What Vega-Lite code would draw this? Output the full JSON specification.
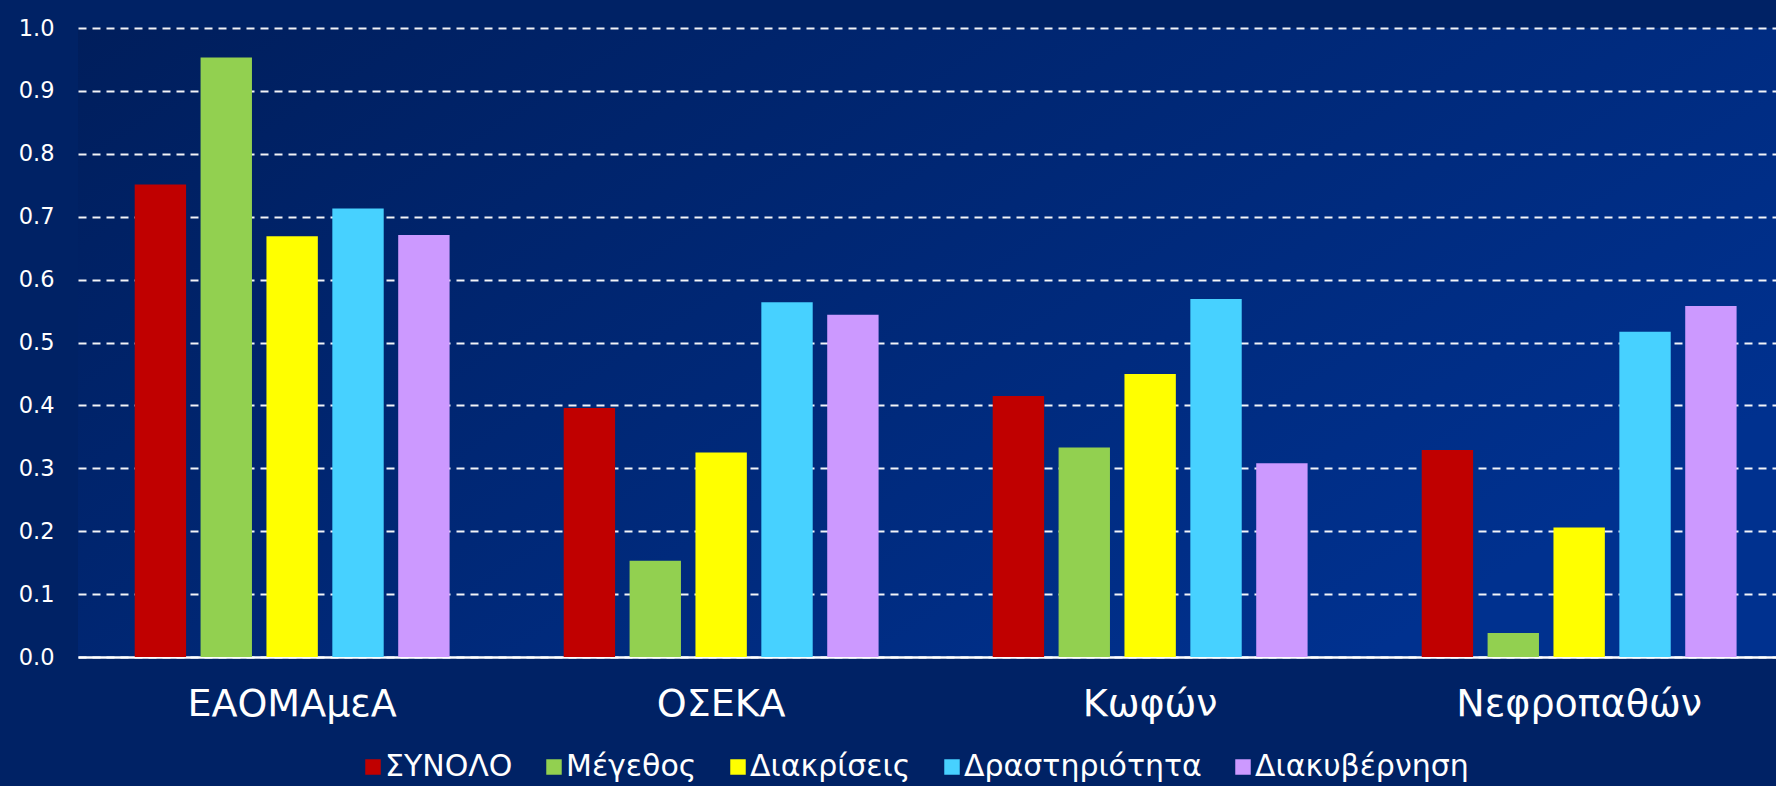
{
  "$schema": "https://vega.github.io/schema/vega-lite/v6.json",
  "width": 1698,
  "height": 629,
  "autosize": {"type": "none"},
  "padding": {"left": 78, "top": 28, "right": 0, "bottom": 129},
  "background": "#002265",
  "config": {
    "font": "DejaVu Sans",
    "view": {
      "stroke": null,
      "fill": {
        "gradient": "linear",
        "x1": 0, "y1": 0, "x2": 1, "y2": 0.6,
        "stops": [
          {"offset": 0, "color": "#001e5c"},
          {"offset": 1, "color": "#00318f"}
        ]
      }
    }
  },
  "data": {
    "values": [
      {"org": "ΕΑΟΜΑμεΑ", "k": "ΣΥΝΟΛΟ", "v": 0.751},
      {"org": "ΕΑΟΜΑμεΑ", "k": "Μέγεθος", "v": 0.953},
      {"org": "ΕΑΟΜΑμεΑ", "k": "Διακρίσεις", "v": 0.669},
      {"org": "ΕΑΟΜΑμεΑ", "k": "Δραστηριότητα", "v": 0.713},
      {"org": "ΕΑΟΜΑμεΑ", "k": "Διακυβέρνηση", "v": 0.671},
      {"org": "ΟΣΕΚΑ", "k": "ΣΥΝΟΛΟ", "v": 0.396},
      {"org": "ΟΣΕΚΑ", "k": "Μέγεθος", "v": 0.153},
      {"org": "ΟΣΕΚΑ", "k": "Διακρίσεις", "v": 0.325},
      {"org": "ΟΣΕΚΑ", "k": "Δραστηριότητα", "v": 0.564},
      {"org": "ΟΣΕΚΑ", "k": "Διακυβέρνηση", "v": 0.544},
      {"org": "Κωφών", "k": "ΣΥΝΟΛΟ", "v": 0.415},
      {"org": "Κωφών", "k": "Μέγεθος", "v": 0.333},
      {"org": "Κωφών", "k": "Διακρίσεις", "v": 0.45},
      {"org": "Κωφών", "k": "Δραστηριότητα", "v": 0.569},
      {"org": "Κωφών", "k": "Διακυβέρνηση", "v": 0.308},
      {"org": "Νεφροπαθών", "k": "ΣΥΝΟΛΟ", "v": 0.329},
      {"org": "Νεφροπαθών", "k": "Μέγεθος", "v": 0.038},
      {"org": "Νεφροπαθών", "k": "Διακρίσεις", "v": 0.206},
      {"org": "Νεφροπαθών", "k": "Δραστηριότητα", "v": 0.517},
      {"org": "Νεφροπαθών", "k": "Διακυβέρνηση", "v": 0.558}
    ]
  },
  "mark": {"type": "bar"},
  "encoding": {
    "x": {
      "field": "org",
      "type": "nominal",
      "sort": ["ΕΑΟΜΑμεΑ", "ΟΣΕΚΑ", "Κωφών", "Νεφροπαθών"],
      "scale": {"paddingInner": 0.266, "paddingOuter": 0.112, "align": 0.59},
      "axis": {
        "title": null,
        "labelAngle": 0,
        "labelFontSize": 38,
        "labelColor": "#ffffff",
        "labelPadding": 28,
        "labelLimit": 0,
        "ticks": false,
        "domainColor": "#ffffff",
        "domainWidth": 2.5,
        "grid": false
      }
    },
    "xOffset": {
      "field": "k",
      "type": "nominal",
      "sort": ["ΣΥΝΟΛΟ", "Μέγεθος", "Διακρίσεις", "Δραστηριότητα", "Διακυβέρνηση"],
      "scale": {"paddingInner": 0.22, "paddingOuter": 0}
    },
    "y": {
      "field": "v",
      "type": "quantitative",
      "scale": {"domain": [0, 1], "nice": false},
      "axis": {
        "title": null,
        "values": [0, 0.1, 0.2, 0.3, 0.4, 0.5, 0.6, 0.7, 0.8, 0.9, 1.0],
        "format": ".1f",
        "labelFontSize": 22.5,
        "labelColor": "#ffffff",
        "labelPadding": 24,
        "ticks": false,
        "domain": false,
        "grid": true,
        "gridColor": "#ffffff",
        "gridDash": [8, 6],
        "gridWidth": 2,
        "gridOpacity": 0.95
      }
    },
    "color": {
      "field": "k",
      "type": "nominal",
      "sort": ["ΣΥΝΟΛΟ", "Μέγεθος", "Διακρίσεις", "Δραστηριότητα", "Διακυβέρνηση"],
      "scale": {
        "domain": ["ΣΥΝΟΛΟ", "Μέγεθος", "Διακρίσεις", "Δραστηριότητα", "Διακυβέρνηση"],
        "range": ["#c00000", "#92d050", "#ffff00", "#47d1ff", "#cc99ff"]
      },
      "legend": {
        "title": null,
        "orient": "none",
        "legendX": 280,
        "legendY": 724,
        "direction": "horizontal",
        "columns": 5,
        "columnPadding": 26,
        "symbolType": "square",
        "symbolSize": 240,
        "symbolStrokeWidth": 0,
        "symbolOpacity": 1,
        "labelFontSize": 30,
        "labelColor": "#ffffff",
        "labelOffset": -3,
        "labelLimit": 0
      }
    }
  }
}
